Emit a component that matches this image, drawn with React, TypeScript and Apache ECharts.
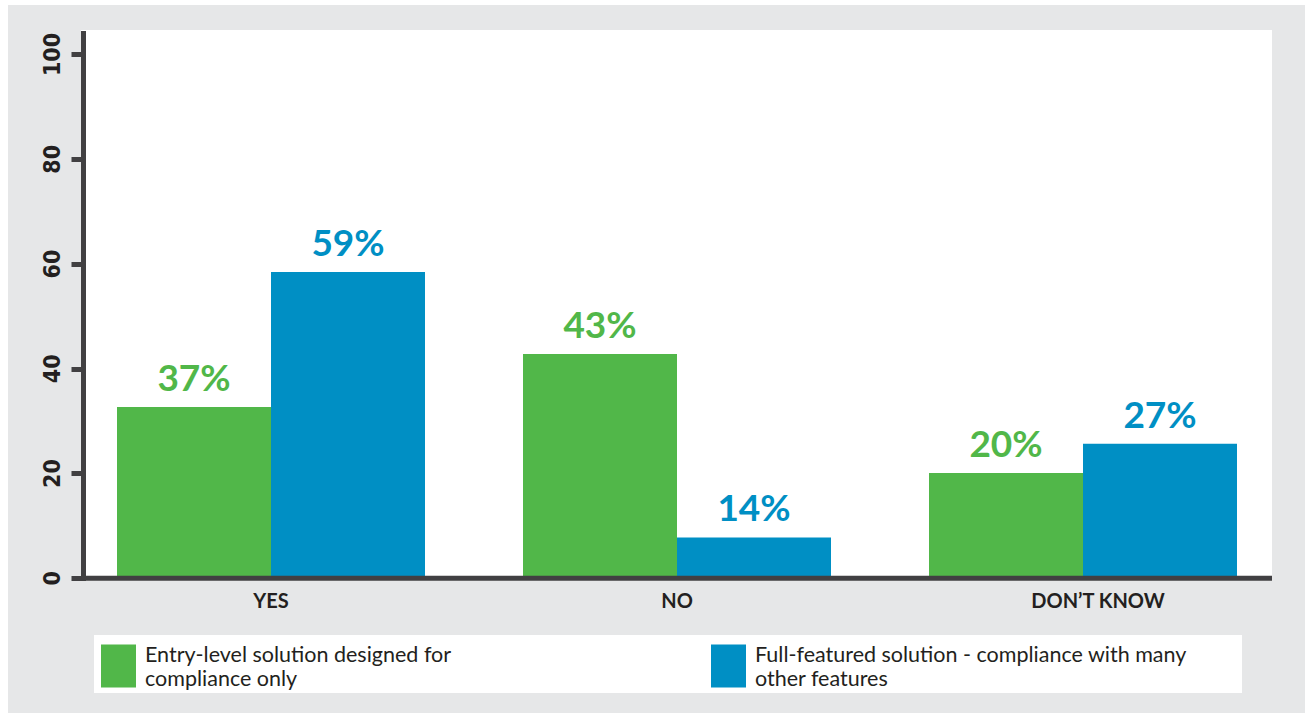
import React, { useEffect, useRef } from "react";
import * as echarts from "echarts";

const categories = ["YES", "NO", "DON\u2019T KNOW"];
const entryValues = [32.7, 42.8, 20.1];
const fullValues = [58.5, 7.8, 25.7];
const entryLabels = ["37%", "43%", "20%"];
const fullLabels = ["59%", "14%", "27%"];
const seriesNames = [
  "Entry-level solution designed for\ncompliance only",
  "Full-featured solution - compliance with many\nother features",
];
const yTicks = { min: 0, max: 100, interval: 20 };

const GREEN = "#51b749";
const BLUE = "#008fc4";
const AXIS = "#414042";
const BG = "#e6e7e8";
const TEXT = "#231f20";
const GEO = "Lato, 'Open Sans', sans-serif";

export default function App() {
  const ref = useRef<HTMLDivElement>(null);
  useEffect(() => {
    const chart = echarts.init(ref.current!, undefined, { renderer: "svg" });
    const legendText = {
      fontFamily: GEO,
      fontSize: 21.5,
      lineHeight: 24,
      color: TEXT,
      padding: [0, 0, 0, 4],
    };
    chart.setOption({
      animation: false,
      backgroundColor: BG,
      grid: { left: 60, right: 19, top: 49.5, bottom: 134.7 },
      graphic: [
        { type: "rect", z: -1, shape: { x: 73, y: 25, width: 1191, height: 548 }, style: { fill: "#ffffff" } },
        { type: "rect", z: -1, shape: { x: 86, y: 630, width: 1148, height: 58 }, style: { fill: "#ffffff" } },
        { type: "line", z: 100, shape: { x1: 75.5, y1: 26, x2: 75.5, y2: 576 }, style: { stroke: AXIS, lineWidth: 5 } },
        { type: "line", z: 100, shape: { x1: 73, y1: 573.3, x2: 1264, y2: 573.3 }, style: { stroke: AXIS, lineWidth: 5 } },
      ],
      legend: [
        {
          left: 93, top: 637, padding: 0, itemWidth: 35, itemHeight: 43,
          icon: "rect", data: [seriesNames[0]], textStyle: legendText, selectedMode: false,
        },
        {
          left: 703, top: 637, padding: 0, itemWidth: 35, itemHeight: 43,
          icon: "rect", data: [seriesNames[1]], textStyle: legendText, selectedMode: false,
        },
      ],
      xAxis: {
        type: "category",
        data: categories.map((c, i) =>
          i === 2 ? { value: c, textStyle: { padding: [0, 0, 0, 30] } } : c
        ),
        axisLine: { show: false },
        axisTick: { show: false },
        axisLabel: {
          fontFamily: GEO, fontWeight: "bold", fontSize: 20, color: TEXT, margin: 12,
        },
      },
      yAxis: {
        type: "value",
        min: yTicks.min,
        max: yTicks.max,
        interval: yTicks.interval,
        offset: -15.5,
        axisLine: { show: false },
        axisTick: { show: true, length: 12, lineStyle: { color: AXIS, width: 5 } },
        splitLine: { show: false },
        axisLabel: {
          rotate: 90,
          margin: 20,
          fontFamily: "'Liberation Sans Narrow', 'DejaVu Sans Condensed', 'Liberation Sans', sans-serif",
          fontWeight: "bold",
          fontSize: 23,
          color: TEXT,
        },
      },
      series: [
        {
          name: seriesNames[0],
          type: "bar",
          data: entryValues,
          barWidth: 154,
          barGap: "0%",
          itemStyle: { color: GREEN },
          label: {
            show: true, position: "top", distance: 12,
            formatter: (p: any) => entryLabels[p.dataIndex],
            fontFamily: GEO, fontWeight: "bold", fontSize: 37, color: GREEN,
          },
        },
        {
          name: seriesNames[1],
          type: "bar",
          data: fullValues,
          barWidth: 154,
          barGap: "0%",
          itemStyle: { color: BLUE },
          label: {
            show: true, position: "top", distance: 12,
            formatter: (p: any) => fullLabels[p.dataIndex],
            fontFamily: GEO, fontWeight: "bold", fontSize: 37, color: BLUE,
          },
        },
      ],
    });
    return () => chart.dispose();
  }, []);
  return (
    <div
      ref={ref}
      style={{ position: "absolute", left: 8, top: 5, width: 1297, height: 708 }}
    />
  );
}
